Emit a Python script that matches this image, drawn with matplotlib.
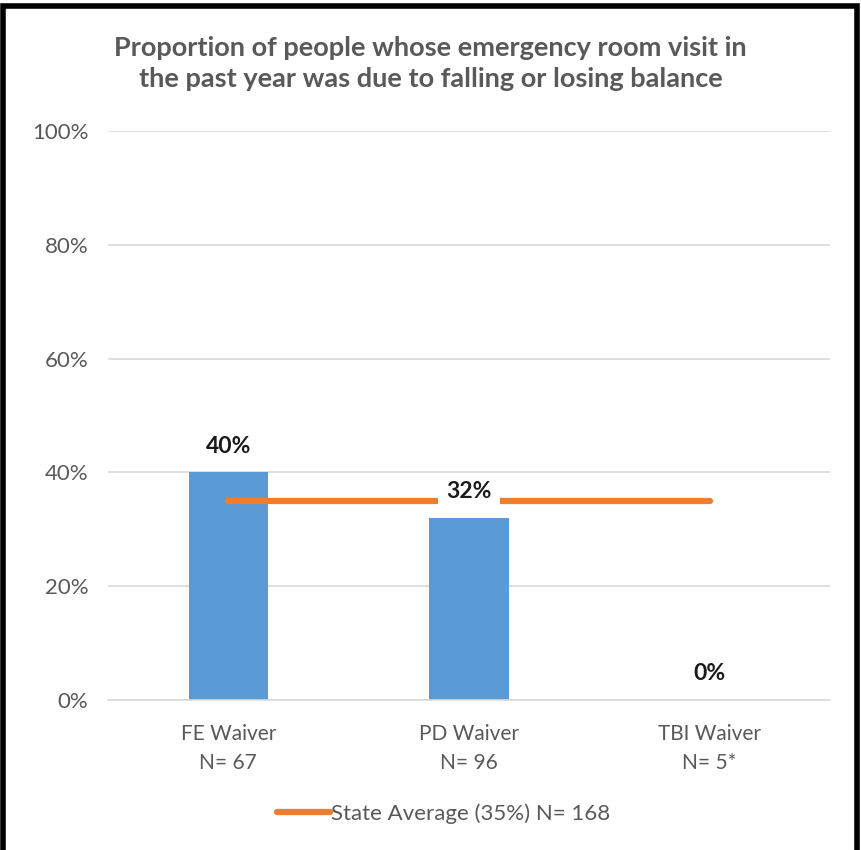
import matplotlib.pyplot as plt
from matplotlib.patches import Rectangle

plt.rcParams['font.family'] = ['Lato', 'DejaVu Sans']

categories = ["FE Waiver\nN= 67", "PD Waiver\nN= 96", "TBI Waiver\nN= 5*"]
values = [40, 32, 0]
state_avg = 35
state_label = "State Average (35%) N= 168"
title = "Proportion of people whose emergency room visit in\nthe past year was due to falling or losing balance"

blue = "#5B9BD5"
orange = "#ED7D31"
gray = "#595959"

fig = plt.figure(figsize=(8.61, 8.5), dpi=100)
ax = fig.add_axes([0.1254, 0.1765, 0.8386, 0.6694])

x = list(range(len(categories)))
ax.bar(x, values, width=0.33, color=blue, zorder=2)
line, = ax.plot(x, [state_avg] * len(x), color=orange, lw=4.5,
                solid_capstyle='round', zorder=3, label=state_label)

for i, v in enumerate(values):
    ax.text(i, v + 4.6, "{}%".format(v), ha='center', va='center',
            fontsize=16.5, fontweight='bold', color='#1a1a1a', zorder=4,
            bbox=dict(facecolor='white', edgecolor='none', pad=6))

ax.set_xlim(-0.5, 2.5)
ax.set_ylim(0, 100)
ax.set_yticks(range(0, 101, 20))
ax.set_yticklabels(["{}%".format(t) for t in range(0, 101, 20)])
ax.set_xticks(x)
ax.set_xticklabels(categories, linespacing=1.6)
ax.tick_params(axis='both', length=0, colors=gray)
ax.tick_params(axis='y', pad=14, labelsize=16)
ax.tick_params(axis='x', pad=17, labelsize=15)
ax.yaxis.grid(True, color='#D9D9D9', lw=1.2, zorder=0)
ax.set_axisbelow(True)
for s in ['top', 'right', 'left']:
    ax.spines[s].set_visible(False)
ax.spines['bottom'].set_color('#D9D9D9')
ax.spines['bottom'].set_linewidth(1.2)

fig.text(0.5, 0.925, title, ha='center', va='center', fontsize=19.5,
         fontweight='bold', color=gray, linespacing=1.35)

fig.legend(handles=[line], loc='center', bbox_to_anchor=(0.515, 0.043),
           frameon=False, fontsize=16, labelcolor=gray,
           handlelength=2.4, handletextpad=0.05)

fig.patches.append(Rectangle((0.003, -0.01), 0.992, 1.003, transform=fig.transFigure,
                             fill=False, edgecolor='black', lw=4))

fig.savefig("out.png", dpi=100)
